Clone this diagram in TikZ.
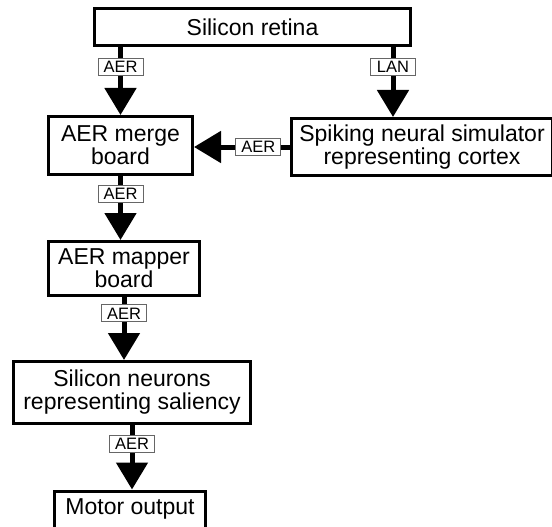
\documentclass[tikz,border=0pt]{standalone}
\usepackage{fontspec}
\setmainfont{Liberation Sans}
\usetikzlibrary{arrows.meta, positioning}

\begin{document}
\begin{tikzpicture}[x=1pt, y=-1pt,
  box/.style={draw, line width=3pt, align=center, inner sep=0pt, font=\fontsize{23}{23}\selectfont},
  flow/.style={line width=5pt, -{Triangle[width=31pt, length=27pt]}},
  tag/.style={draw=gray!80!black, line width=0.9pt, fill=white, inner sep=0pt, minimum width=45pt, minimum height=17pt, font=\fontsize{16.5}{16.5}\selectfont}]
  \useasboundingbox (0,0) rectangle (552,527);

  % Processing stages
  \node[box, minimum width=316pt, minimum height=37pt] (retina) at (252.5, 27) {Silicon retina};
  \node[box, minimum width=144pt, minimum height=58pt] (merge) at (120.5, 145.5) {AER merge\\board};
  \node[box, minimum width=261pt, minimum height=57pt] (spiking) at (422, 147) {Spiking neural simulator\\representing cortex};
  \node[box, minimum width=151pt, minimum height=54pt] (mapper) at (124, 268.5) {AER mapper\\board};
  \node[box, minimum width=237pt, minimum height=62pt] (neurons) at (132, 392.5) {Silicon neurons\\representing saliency};
  \node[box, minimum width=151pt, anchor=north, text height=15pt, text depth=20pt, inner ysep=8pt] (motor) at (130, 489.5) {Motor output};

  % Event links
  \coordinate (lanin) at ([xshift=-29pt]spiking.north);
  \draw[flow] (retina.south -| merge.north) -- (merge.north) node[tag, pos=0.29] {AER};
  \draw[flow] (retina.south -| lanin) -- (lanin) node[tag, pos=0.29] {LAN};
  \draw[flow] (spiking.west) -- (spiking.west -| merge.east) node[tag, pos=0.33] {AER};
  \draw[flow] (merge.south) -- (merge.south |- mapper.north) node[tag, pos=0.28] {AER};
  \draw[flow] (mapper.south) -- (mapper.south |- neurons.north) node[tag, pos=0.26] {AER};
  \draw[flow] (neurons.south) -- (neurons.south |- motor.north) node[tag, pos=0.29] {AER};
\end{tikzpicture}
\end{document}
